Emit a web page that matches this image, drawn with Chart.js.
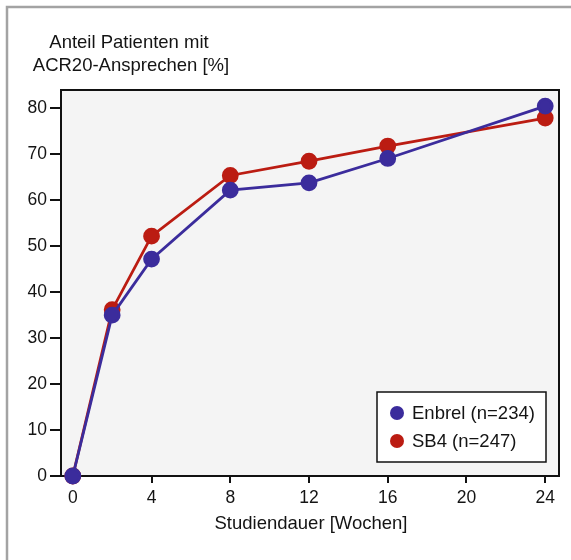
<!DOCTYPE html>
<html>
<head>
<meta charset="utf-8">
<script src="https://cdn.jsdelivr.net/npm/chart.js@4"></script>
<style>
  html, body { margin: 0; padding: 0; background: #fff; }
  #wrap { width: 571px; height: 560px; }
</style>
</head>
<body>
<div id="wrap"><canvas id="chart"></canvas></div>
<script>
const weeks = [0, 2, 4, 8, 12, 16, 24];
const enbrel = [0, 35, 47.2, 62.2, 63.8, 69.1, 80.5];
const sb4 = [0, 36.2, 52.2, 65.4, 68.5, 71.8, 77.9];
const seriesNames = ['Enbrel (n=234)', 'SB4 (n=247)'];
const xTicks = [0, 4, 8, 12, 16, 20, 24];
const yTicks = [0, 10, 20, 30, 40, 50, 60, 70, 80];
const yTitle = ['Anteil Patienten mit', 'ACR20-Ansprechen [%]'];
const xTitle = 'Studiendauer [Wochen]';

const font = '"Liberation Sans", Arial, sans-serif';
const ink = '#141414';

const decor = {
    id: 'decor',
    beforeDraw(chart) {
        const { ctx, chartArea: a } = chart;
        ctx.save();
        ctx.fillStyle = '#fff';
        ctx.fillRect(0, 0, chart.width, chart.height);
        ctx.strokeStyle = '#a3a3a3';
        ctx.lineWidth = 2.5;
        ctx.strokeRect(7, 7, chart.width + 20, chart.height + 20);
        ctx.fillStyle = '#f4f4f4';
        ctx.fillRect(a.left, a.top, a.right - a.left, a.bottom - a.top);
        ctx.restore();
    },
    afterDatasetsDraw(chart) {
        const { ctx, chartArea: a } = chart;
        ctx.save();
        ctx.strokeStyle = '#111';
        ctx.lineWidth = 2;
        ctx.beginPath();
        ctx.moveTo(a.left, a.top);
        ctx.lineTo(a.right, a.top);
        ctx.lineTo(a.right, a.bottom);
        ctx.stroke();

        // axis titles
        ctx.fillStyle = ink;
        ctx.font = '18.5px ' + font;
        ctx.textAlign = 'center';
        ctx.textBaseline = 'alphabetic';
        ctx.fillText(yTitle[0], 129, 48);
        ctx.fillText(yTitle[1], 131, 71);
        ctx.fillText(xTitle, 311, 529);

        // legend
        const lx = 377, ly = 392, lw = 169, lh = 70;
        ctx.fillStyle = '#fff';
        ctx.fillRect(lx, ly, lw, lh);
        ctx.strokeStyle = '#111';
        ctx.lineWidth = 1.5;
        ctx.strokeRect(lx, ly, lw, lh);
        ctx.font = '18.5px ' + font;
        ctx.textAlign = 'left';
        ctx.textBaseline = 'middle';
        chart.data.datasets.forEach((ds, i) => {
            const cy = ly + 21 + i * 28;
            ctx.fillStyle = ds.backgroundColor;
            ctx.beginPath();
            ctx.arc(lx + 20, cy, 7, 0, Math.PI * 2);
            ctx.fill();
            ctx.fillStyle = ink;
            ctx.fillText(ds.label, lx + 35, cy + 1);
        });
        ctx.restore();
    }
};

const ctx = document.getElementById('chart').getContext('2d');
new Chart(ctx, {
    type: 'line',
    data: {
        datasets: [
            {
                label: seriesNames[0],
                data: weeks.map((w, i) => ({ x: w, y: enbrel[i] })),
                borderColor: '#3b2c9c',
                backgroundColor: '#3b2c9c',
                borderWidth: 2.8,
                pointRadius: 7,
                pointHoverRadius: 7,
                tension: 0,
                clip: false
            },
            {
                label: seriesNames[1],
                data: weeks.map((w, i) => ({ x: w, y: sb4[i] })),
                borderColor: '#bb1c12',
                backgroundColor: '#bb1c12',
                borderWidth: 2.8,
                pointRadius: 7,
                pointHoverRadius: 7,
                tension: 0,
                clip: false
            }
        ]
    },
    options: {
        responsive: true,
        maintainAspectRatio: false,
        animation: false,
        layout: { padding: { left: 0, top: 90, right: 12, bottom: 0 } },
        plugins: {
            legend: { display: false },
            tooltip: { enabled: false }
        },
        scales: {
            x: {
                type: 'linear',
                min: -0.6,
                max: 24.7,
                afterBuildTicks: s => { s.ticks = xTicks.map(v => ({ value: v })); },
                afterFit: s => { s.height = 84; },
                border: { display: true, color: '#111', width: 2 },
                grid: { drawOnChartArea: false, drawTicks: true, tickLength: 7, color: '#111', lineWidth: 2 },
                ticks: { color: ink, font: { family: font, size: 17.5 }, padding: 5, maxRotation: 0 }
            },
            y: {
                min: 0,
                max: 84,
                afterBuildTicks: s => { s.ticks = yTicks.map(v => ({ value: v })); },
                afterFit: s => { s.width = 61; },
                border: { display: true, color: '#111', width: 2 },
                grid: { drawOnChartArea: false, drawTicks: true, tickLength: 11, color: '#111', lineWidth: 2 },
                ticks: { color: ink, font: { family: font, size: 17.5 }, padding: 3 }
            }
        }
    },
    plugins: [decor]
});
</script>
</body>
</html>
